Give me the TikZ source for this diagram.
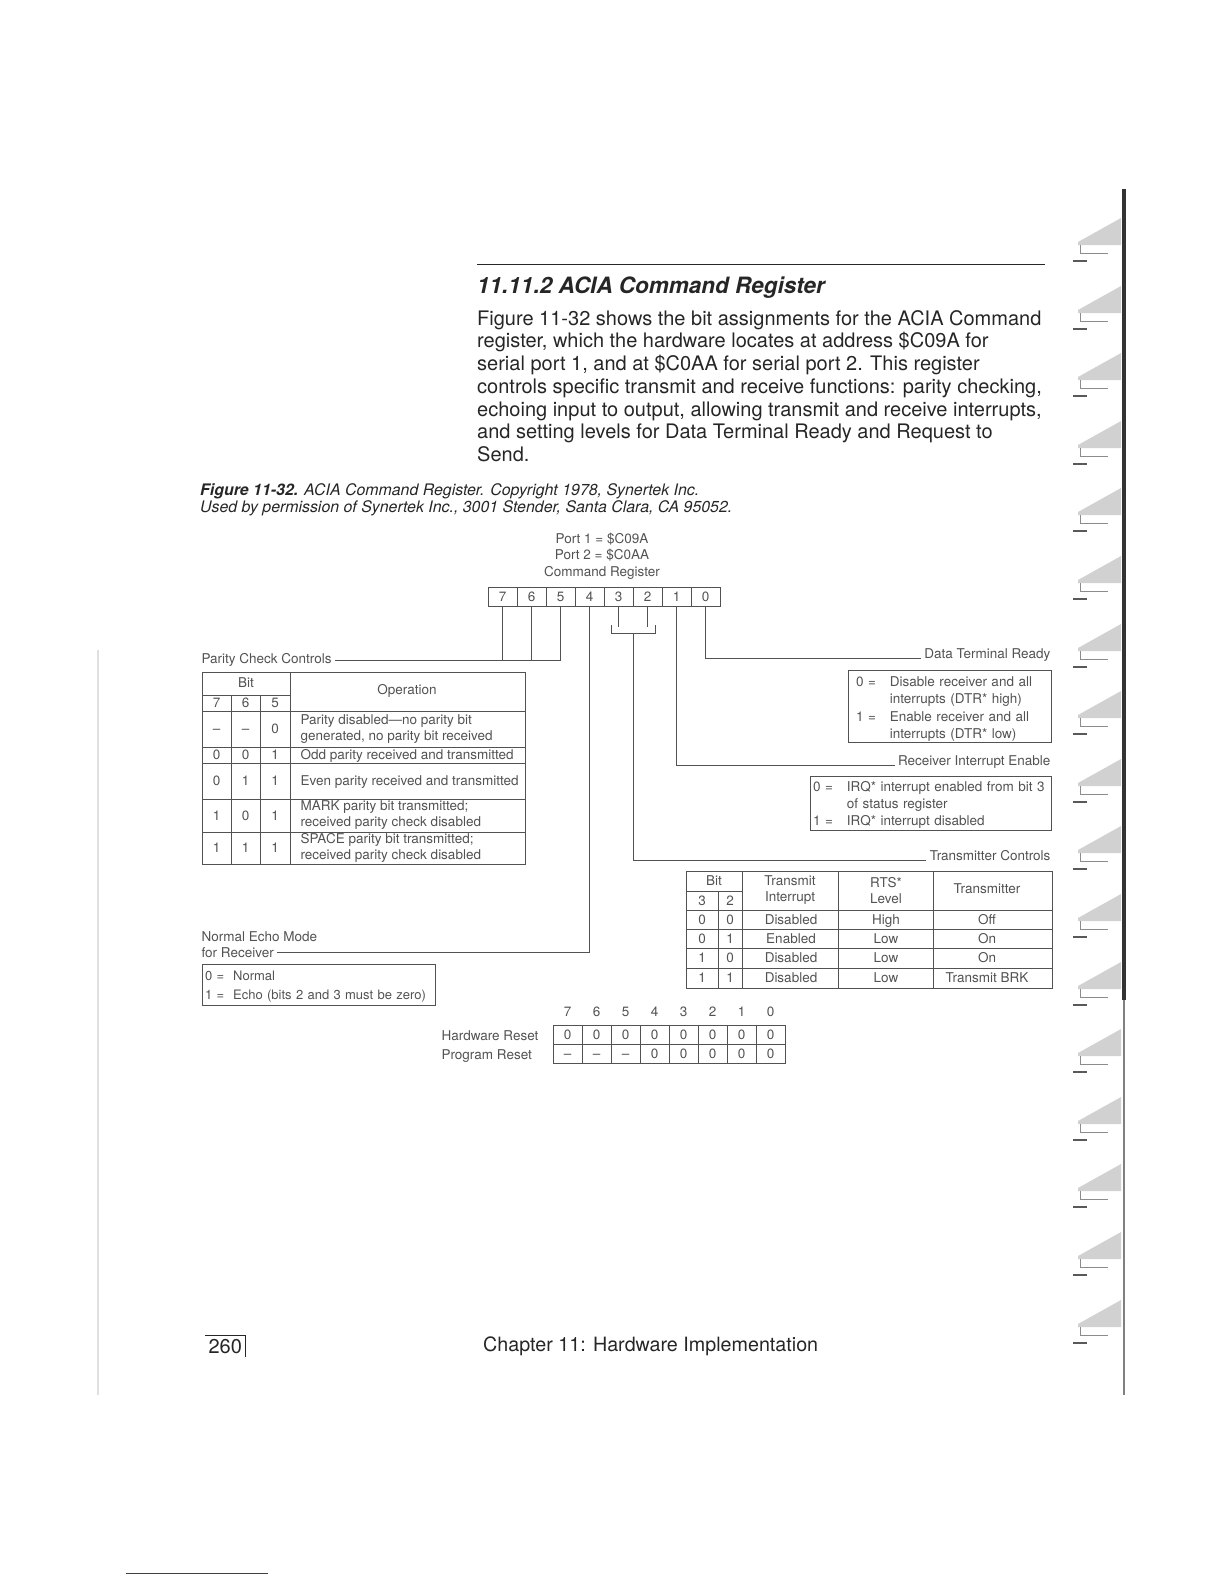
\documentclass[tikz,border=0pt]{standalone}
\usepackage{fontspec}
\setmainfont{TeX Gyre Heros}
\definecolor{ink}{gray}{0.32}
\definecolor{prn}{gray}{0.15}
\newcommand{\dgm}{\fontsize{13.5}{16}\selectfont}

\begin{document}
\begin{tikzpicture}[
    x=1pt, y=-1pt,
    every node/.style={font=\dgm, text=ink},
    cell/.style={draw=ink, line width=0.8pt, minimum width=29pt, minimum height=19pt, inner sep=0pt, text height=9.6pt, text depth=0pt},
    tx/.style={text height=9.6pt, text depth=0pt},
    wire/.style={draw=ink, line width=0.9pt},
    frame/.style={draw=ink, line width=0.9pt},
    lbl/.style={anchor=base east}
]
\useasboundingbox (0,0) rectangle (1224,1584);

% Page text
\draw[prn, line width=1pt] (477,264) -- (1045,264);
\node[anchor=base west, inner sep=0pt, font=\fontsize{22.5}{26}\selectfont\bfseries\itshape, text=prn] (head) at (477,293) {11.11.2 ACIA Command Register};
\node[anchor=north west, inner sep=0pt, align=left, font=\fontsize{20}{22.75}\selectfont, text=prn] (para) at (477,310) {Figure 11-32 shows the bit assignments for the ACIA Command\\register, which the hardware locates at address \$C09A for\\serial port 1, and at \$C0AA for serial port 2. This register\\controls specific transmit and receive functions: parity checking,\\echoing input to output, allowing transmit and receive interrupts,\\and setting levels for Data Terminal Ready and Request to\\Send.};
\node[anchor=north west, inner sep=0pt, align=left, font=\fontsize{15.9}{17.2}\selectfont\itshape, text=prn] (cap) at (200,483) {\textbf{Figure 11-32.} ACIA Command Register. Copyright 1978, Synertek Inc.\\Used by permission of Synertek Inc., 3001 Stender, Santa Clara, CA 95052.};

% Register
\node[align=center, font=\fontsize{13.5}{16.6}\selectfont] (port) at (602,556) {Port 1 = \$C09A\\Port 2 = \$C0AA\\Command Register};
\node[cell] (r7) at (502.5,596.5) {7};
\node[cell] (r6) at (531.5,596.5) {6};
\node[cell] (r5) at (560.5,596.5) {5};
\node[cell] (r4) at (589.5,596.5) {4};
\node[cell] (r3) at (618.5,596.5) {3};
\node[cell] (r2) at (647.5,596.5) {2};
\node[cell] (r1) at (676.5,596.5) {1};
\node[cell] (r0) at (705.5,596.5) {0};

% Labels
\node[anchor=west] (pcc) at (198,660) {Parity Check Controls};
\node[lbl] (dtr) at (1054,658.5) {Data Terminal Ready};
\node[lbl] (rie) at (1054,765) {Receiver Interrupt Enable};
\node[lbl] (tc) at (1054,860) {Transmitter Controls};
\node[anchor=west] (nem1) at (198,937) {Normal Echo Mode};
\node[anchor=west] (nem2) at (198,952.5) {for Receiver};

% Bit lines
\draw[wire] (pcc.east) -| (r5.south);
\draw[wire] (r7.south) -- (r7.south |- pcc.east);
\draw[wire] (r6.south) -- (r6.south |- pcc.east);
\draw[wire] (r4.south) |- (nem2.east);
\draw[wire] (r3.south) -- ++(0,21);
\draw[wire] (r2.south) -- ++(0,21);
\coordinate (bl) at (611,625);
\coordinate (br) at (655,625);
\coordinate (bc) at (633,633);
\draw[wire] (bl) -- ++(0,8) -| (br);
\draw[wire] (bc) |- (tc.base west);
\draw[wire] (r1.south) |- (rie.base west);
\draw[wire] (r0.south) |- (dtr.base west);

% Parity table
\draw[frame] (202,672) rectangle (525,864);
\draw[frame] (290,672) -- (290,864);
\draw[frame] (202,695) -- (290,695);
\draw[frame] (231,695) -- (231,864);
\draw[frame] (260,695) -- (260,864);
\draw[frame] (202,711) -- (525,711);
\draw[frame] (202,747) -- (525,747);
\draw[frame] (202,763) -- (525,763);
\draw[frame] (202,799) -- (525,799);
\draw[frame] (202,832) -- (525,832);
\node[tx] (pbit) at (246,683) {Bit};
\node[tx] (pb7) at (216.5,703) {7};
\node[tx] (pb6) at (245.5,703) {6};
\node[tx] (pb5) at (275,703) {5};
\node[tx] (pop) at (407,690) {Operation};
\foreach \r/\y/\a/\b/\c in {1/729/--/--/0, 2/755/0/0/1, 3/781/0/1/1, 4/815.5/1/0/1, 5/848/1/1/1} {
  \node[tx] (pa\r) at (216.5,\y) {\a};
  \node[tx] (pb\r) at (245.5,\y) {\b};
  \node[tx] (pc\r) at (275,\y) {\c};
}
\node[anchor=west, align=left] (po1) at (297,729) {Parity disabled---no parity bit\\generated, no parity bit received};
\node[anchor=west, tx] (po2) at (297,755) {Odd parity received and transmitted};
\node[anchor=west, tx] (po3) at (297,781) {Even parity received and transmitted};
\node[anchor=west, align=left] (po4) at (297,815.5) {MARK parity bit transmitted;\\received parity check disabled};
\node[anchor=west, align=left] (po5) at (297,848) {SPACE parity bit transmitted;\\received parity check disabled};

% Boxes
\node[frame, text width=187pt, inner xsep=8pt, inner ysep=0pt, minimum height=72pt, align=left, font=\fontsize{13.5}{17.3}\selectfont] (dtrbox) at (949.5,706)
  {\raisebox{-3pt}[\height][\depth]{\begin{tabular}{@{}l@{\hspace{14pt}}l@{}}0 = & Disable receiver and all\\ & interrupts (DTR* high)\\1 = & Enable receiver and all\\ & interrupts (DTR* low)\end{tabular}}};
\node[frame, text width=235pt, inner xsep=3pt, inner ysep=0pt, minimum height=54pt, align=left, font=\fontsize{13.5}{17}\selectfont] (irqbox) at (930.5,803)
  {\raisebox{-2pt}[\height][\depth]{\begin{tabular}{@{}l@{\hspace{14pt}}l@{}}0 = & IRQ* interrupt enabled from bit 3\\ & of status register\\1 = & IRQ* interrupt disabled\end{tabular}}};
\node[frame, text width=227pt, inner xsep=3pt, inner ysep=0pt, minimum height=41pt, align=left, font=\fontsize{13}{19.5}\selectfont] (echobox) at (318.5,985)
  {\raisebox{-1pt}[\height][\depth]{\begin{tabular}{@{}l@{\hspace{9pt}}l@{}}0 = & Normal\\1 = & Echo (bits 2 and 3 must be zero)\end{tabular}}};

% Transmitter table
\draw[frame] (686,871) rectangle (1052,988);
\draw[frame] (742,871) -- (742,988);
\draw[frame] (838,871) -- (838,988);
\draw[frame] (933,871) -- (933,988);
\draw[frame] (718,891) -- (718,988);
\draw[frame] (686,891) -- (742,891);
\draw[frame] (686,910) -- (1052,910);
\draw[frame] (686,929) -- (1052,929);
\draw[frame] (686,948) -- (1052,948);
\draw[frame] (686,968) -- (1052,968);
\node[tx] (tbit) at (714,881) {Bit};
\node[tx] (tb3) at (702,900.5) {3};
\node[tx] (tb2) at (730,900.5) {2};
\node[align=center] (tti) at (790,890.5) {Transmit\\Interrupt};
\node[align=center] (trts) at (886,890.5) {RTS*\\Level};
\node[tx] (ttx) at (987,889) {Transmitter};
\foreach \r/\y/\a/\b/\i/\l/\t in {1/919.5/0/0/Disabled/High/Off, 2/938.5/0/1/Enabled/Low/On, 3/958/1/0/Disabled/Low/On, 4/978/1/1/Disabled/Low/Transmit BRK} {
  \node[tx] (ta\r) at (702,\y) {\a};
  \node[tx] (tb\r) at (730,\y) {\b};
  \node[tx] (ti\r) at (791,\y) {\i};
  \node[tx] (tl\r) at (886,\y) {\l};
  \node[tx] (tt\r) at (987,\y) {\t};
}

% Reset values
\node[anchor=west] (hwr) at (438,1036) {Hardware Reset};
\node[anchor=west] (pgr) at (438,1056) {Program Reset};
\foreach \i/\h/\g in {0/0/--, 1/0/--, 2/0/--, 3/0/0, 4/0/0, 5/0/0, 6/0/0, 7/0/0} {
  \pgfmathtruncatemacro{\b}{7-\i}
  \node[tx] (n\i) at (567.5+29*\i,1012) {\b};
  \node[cell] (h\i) at (567.5+29*\i,1034.5) {\h};
  \node[cell] (g\i) at (567.5+29*\i,1053.5) {\g};
}

% Footer
\node[anchor=base west, font=\fontsize{20}{24}\selectfont, text=prn] (pg) at (205,1353) {260};
\draw[prn, line width=1pt] (pg.north west) -| (pg.south east);
\node[anchor=west, inner sep=0pt, font=\fontsize{19.7}{23}\selectfont, text=prn] (chap) at (483,1346) {Chapter 11: Hardware Implementation};

% Binding and scan marks
\draw[black!80, line width=3.5pt] (1124,189) -- (1124,1000);
\draw[black!50, line width=2.5pt] (1124,1000) -- (1124,1395);
\foreach \y in {242,310,377,445,512,580,648,715,783,850,918,986,1053,1121,1188,1256,1324} {
  \fill[black!18] (1078,\y) -- (1121,\y-24) -- (1121,\y+3) -- (1078,\y+3) -- cycle;
  \draw[black!45, line width=0.8pt] (1080,\y+3) -- (1080,\y+11) -- (1108,\y+11);
  \draw[black!65, line width=1.4pt] (1073,\y+19) -- (1087,\y+19);
}
\draw[black!12, line width=1.5pt] (98,650) -- (98,1395);
\draw[black!75, line width=1pt] (126,1573) -- (268,1573);
\end{tikzpicture}
\end{document}
